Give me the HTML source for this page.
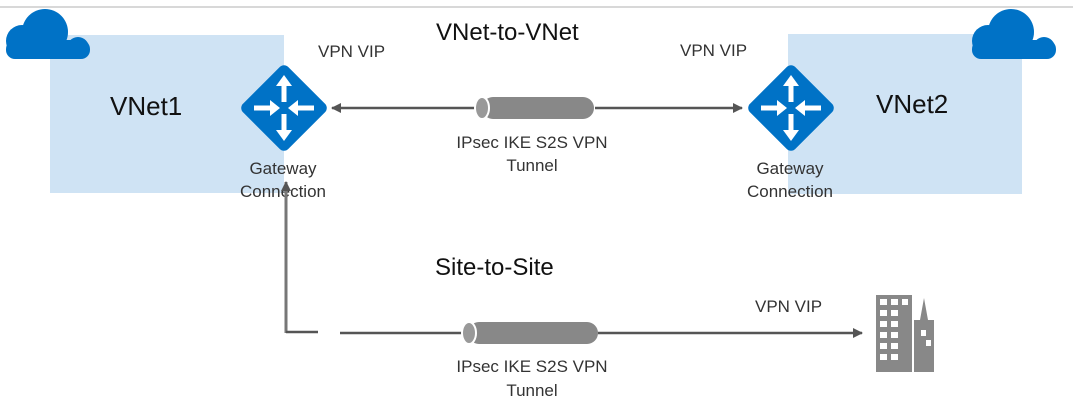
<!DOCTYPE html>
<html><head><style>
body{margin:0;background:#fff;}
svg{display:block;font-family:"Liberation Sans",sans-serif;}
</style></head><body>
<svg width="1073" height="405" viewBox="0 0 1073 405" xmlns="http://www.w3.org/2000/svg">
<defs>
<marker id="ah" markerWidth="10" markerHeight="10" refX="9" refY="5" orient="auto" markerUnits="userSpaceOnUse">
<path d="M0,0 L10,5 L0,10 z" fill="#555"/>
</marker>
<g id="gw">
<rect x="-32" y="-32" width="64" height="64" rx="6" transform="rotate(45)" fill="#0072c6"/>
<g stroke="#fff" stroke-width="5" fill="#fff">
<line x1="0" y1="-6" x2="0" y2="-24"/><path d="M-8,-22 L0,-33 L8,-22z" stroke="none"/>
<line x1="0" y1="6" x2="0" y2="24"/><path d="M-8,22 L0,33 L8,22z" stroke="none"/>
<line x1="-30" y1="0" x2="-12" y2="0"/><path d="M-14,-8 L-4,0 L-14,8z" stroke="none"/>
<line x1="30" y1="0" x2="12" y2="0"/><path d="M14,-8 L4,0 L14,8z" stroke="none"/>
</g>
</g>
<g id="cloud" fill="#0072c6">
<circle cx="45" cy="32" r="23"/><circle cx="22" cy="41" r="16"/><circle cx="78" cy="48" r="11"/>
<rect x="6" y="40" width="84" height="19" rx="9"/>
</g>
</defs>
<line x1="0" y1="7" x2="1073" y2="7" stroke="#ccc" stroke-width="1.5"/>
<rect x="50" y="35" width="234" height="158" fill="#cfe3f4"/>
<rect x="788" y="34" width="234" height="160" fill="#cfe3f4"/>
<use href="#cloud" x="0" y="0"/>
<use href="#cloud" x="966" y="0"/>
<text x="110" y="115" font-size="26" fill="#111">VNet1</text>
<text x="876" y="113" font-size="26" fill="#111">VNet2</text>
<text x="436" y="40" font-size="24" fill="#111">VNet-to-VNet</text>
<text x="435" y="275" font-size="24" fill="#111">Site-to-Site</text>
<g font-size="17" fill="#333">
<text x="318" y="57">VPN VIP</text>
<text x="680" y="56">VPN VIP</text>
<text x="755" y="312">VPN VIP</text>
<text x="283" y="174" text-anchor="middle">Gateway</text>
<text x="283" y="197" text-anchor="middle">Connection</text>
<text x="790" y="174" text-anchor="middle">Gateway</text>
<text x="790" y="197" text-anchor="middle">Connection</text>
<text x="532" y="148" text-anchor="middle">IPsec IKE S2S VPN</text>
<text x="532" y="171" text-anchor="middle">Tunnel</text>
<text x="532" y="372" text-anchor="middle">IPsec IKE S2S VPN</text>
<text x="532" y="396" text-anchor="middle">Tunnel</text>
</g>
<g stroke="#555" stroke-width="2.5" fill="none">
<line x1="475" y1="108" x2="332" y2="108" marker-end="url(#ah)"/>
<line x1="595" y1="108" x2="742" y2="108" marker-end="url(#ah)"/>
<polyline points="286,333 286,182" marker-end="url(#ah)" stroke="#777" stroke-width="3"/>
<polyline points="286,332 318,332"/>
<line x1="340" y1="333" x2="465" y2="333"/>
<line x1="598" y1="333" x2="862" y2="333" marker-end="url(#ah)"/>
</g>
<g fill="#888">
<rect x="482" y="97" width="112" height="22" rx="11"/>
<ellipse cx="482" cy="108" rx="7" ry="11" fill="#999" stroke="#fff" stroke-width="2"/>
<rect x="468" y="322" width="130" height="22" rx="11"/>
<ellipse cx="469" cy="333" rx="7" ry="11" fill="#999" stroke="#fff" stroke-width="2"/>
</g>
<g fill="#888">
<rect x="876" y="295" width="36" height="77"/>
<path d="M914,372 L914,320 L920,320 L924,298 L928,320 L934,320 L934,372z"/>
<g fill="#fff">
<rect x="880" y="299" width="7" height="6"/><rect x="891" y="299" width="7" height="6"/><rect x="902" y="299" width="6" height="6"/>
<rect x="880" y="310" width="7" height="6"/><rect x="891" y="310" width="7" height="6"/>
<rect x="880" y="321" width="7" height="6"/><rect x="891" y="321" width="7" height="6"/>
<rect x="880" y="332" width="7" height="6"/><rect x="891" y="332" width="7" height="6"/>
<rect x="880" y="343" width="7" height="6"/><rect x="891" y="343" width="7" height="6"/>
<rect x="880" y="354" width="7" height="6"/><rect x="891" y="354" width="7" height="6"/>
<rect x="921" y="330" width="5" height="6"/><rect x="926" y="340" width="5" height="6"/>
</g>
</g>
<use href="#gw" x="284" y="108"/>
<use href="#gw" x="791" y="108"/>
</svg>
</body></html>
